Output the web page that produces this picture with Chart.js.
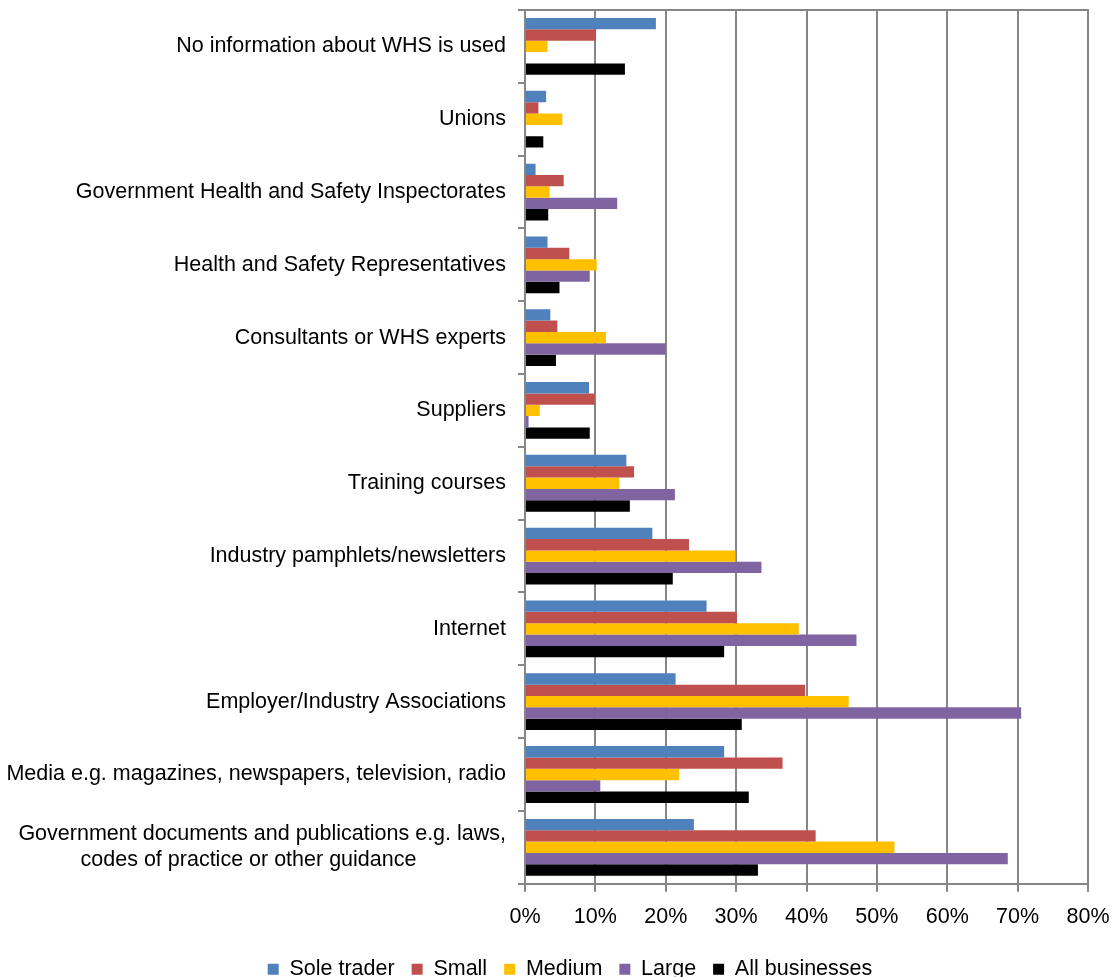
<!DOCTYPE html>
<html>
<head>
<meta charset="utf-8">
<script src="https://cdn.jsdelivr.net/npm/chart.js@4"></script>
<style>
  html, body { margin: 0; padding: 0; background: #fff; }
  #wrap { width: 1117px; height: 977px; }
</style>
</head>
<body>
<div id="wrap"><canvas id="whsChart"></canvas></div>
<script>
// categories, top to bottom as in the picture
const categories = [
    "No information about WHS is used",
    "Unions",
    "Government Health and Safety Inspectorates",
    "Health and Safety Representatives",
    "Consultants or WHS experts",
    "Suppliers",
    "Training courses",
    "Industry pamphlets/newsletters",
    "Internet",
    "Employer/Industry Associations",
    "Media e.g. magazines, newspapers, television, radio",
    // second line padded so it sits centred under the first one
    ["Government documents and publications e.g. laws,", "codes of practice or other guidance               "]
];

// percentages
const soleTrader    = [18.6, 3.0, 1.5, 3.2, 3.6, 9.1, 14.4, 18.1, 25.8, 21.4, 28.3, 24.0];
const small         = [10.1, 1.9, 5.5, 6.3, 4.6, 9.9, 15.5, 23.3, 30.1, 39.8, 36.6, 41.3];
const medium        = [3.2, 5.3, 3.5, 10.2, 11.5, 2.1, 13.4, 29.9, 38.9, 46.0, 21.9, 52.5];
const large         = [0, 0.15, 13.1, 9.2, 20.0, 0.5, 21.3, 33.6, 47.1, 70.5, 10.7, 68.6];
const allBusinesses = [14.2, 2.6, 3.3, 4.9, 4.4, 9.2, 14.9, 21.0, 28.3, 30.8, 31.8, 33.1];

const seriesNames = ["Sole trader", "Small", "Medium", "Large", "All businesses"];
const seriesColors = ["#4F81BD", "#C0504D", "#FFC000", "#8064A2", "#000000"];
const seriesData = [soleTrader, small, medium, large, allBusinesses];

const axisGrey = "#868686";
const font = { family: "'Liberation Sans', Arial, sans-serif", size: 21.5 };

// the legend in the picture sits a bit right of centre and lower down
const legendNudge = {
    id: "legendNudge",
    afterLayout(chart) {
        const lg = chart.legend;
        lg.left += 26; lg.right += 26;
        lg.top += 13; lg.bottom += 13;
    }
};

const ctx = document.getElementById("whsChart").getContext("2d");
new Chart(ctx, {
    type: "bar",
    data: {
        labels: categories,
        datasets: seriesNames.map((name, i) => ({
            label: name,
            data: seriesData[i],
            backgroundColor: seriesColors[i],
            borderWidth: 0,
            barPercentage: 1.0,
            categoryPercentage: 0.78
        }))
    },
    plugins: [legendNudge],
    options: {
        indexAxis: "y",
        responsive: true,
        maintainAspectRatio: false,
        animation: false,
        layout: { padding: { top: 10, right: 29, left: 0, bottom: 0 } },
        plugins: {
            tooltip: { enabled: false },
            legend: {
                position: "bottom",
                labels: {
                    color: "#000",
                    font: font,
                    boxWidth: 11,
                    boxHeight: 11,
                    padding: 17
                }
            }
        },
        scales: {
            x: {
                min: 0,
                max: 80,
                ticks: {
                    stepSize: 10,
                    color: "#000",
                    font: font,
                    padding: 12,
                    callback: v => v + "%"
                },
                grid: {
                    color: axisGrey,
                    lineWidth: 2,
                    tickLength: 8,
                    tickColor: axisGrey
                },
                border: { color: axisGrey, width: 2 },
                afterFit: scale => {
                    scale.height -= 13;
                    scale.paddingLeft = 0;
                    scale.paddingRight = 0;
                }
            },
            x2: {
                position: "top",
                min: 0,
                max: 80,
                ticks: { display: false },
                grid: { display: false, drawTicks: false },
                border: { color: axisGrey, width: 2 },
                afterFit: scale => { scale.height = 0; }
            },
            y: {
                ticks: {
                    color: "#000",
                    font: font,
                    padding: 12,
                    autoSkip: false
                },
                grid: {
                    drawOnChartArea: false,
                    tickLength: 7,
                    tickColor: axisGrey,
                    lineWidth: 2
                },
                border: { color: axisGrey, width: 2 },
                afterFit: scale => {
                    scale.width = 525;
                    scale.paddingTop = 0;
                    scale.paddingBottom = 0;
                }
            }
        }
    }
});
</script>
</body>
</html>
